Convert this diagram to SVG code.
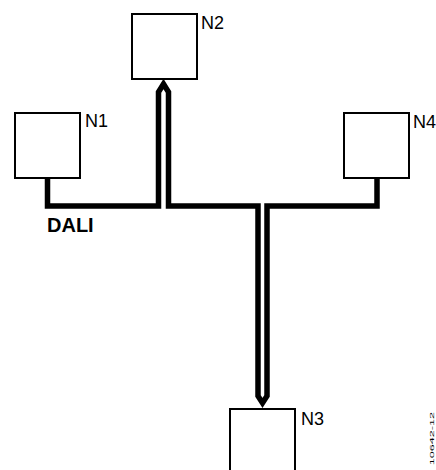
<svg xmlns="http://www.w3.org/2000/svg" width="436" height="470" viewBox="0 0 436 470">
<style>
.box{fill:#fff;stroke:#000;stroke-width:2}
.lbl{font-family:"Liberation Sans",Arial,sans-serif;font-size:18px;fill:#000}
.bus{fill:none;stroke:#000;stroke-width:5.5;stroke-linejoin:miter;stroke-miterlimit:6}
.bold{font-family:"Liberation Sans",Arial,sans-serif;font-size:20px;font-weight:bold;fill:#000}
.fig{font-family:"Liberation Sans",Arial,sans-serif;font-size:6px;fill:#000}
</style>
<rect width="436" height="470" fill="#fff"/>
<g id="connectors">
<path class="bus" d="M47.5,178 V206 H158.5 V92 L163.5,84 L168.5,92 V206 H258 V396 L262.5,403 L267,396 V206 H377 V178"/>
<text class="bold" x="47" y="232">DALI</text>
</g>
<g id="N1">
<rect class="box" x="15" y="113" width="65" height="65"/>
<text class="lbl" x="85" y="127">N1</text>
</g>
<g id="N2">
<rect class="box" x="132" y="14" width="65" height="65"/>
<text class="lbl" x="201" y="29">N2</text>
</g>
<g id="N4">
<rect class="box" x="344" y="113" width="65" height="65"/>
<text class="lbl" x="413" y="128">N4</text>
</g>
<g id="N3">
<rect class="box" x="230" y="409" width="65" height="65"/>
<text class="lbl" x="301" y="425">N3</text>
</g>
<text class="fig" transform="translate(434,412) rotate(-90) scale(2.1,1)" text-anchor="end">10642-12</text>
</svg>
